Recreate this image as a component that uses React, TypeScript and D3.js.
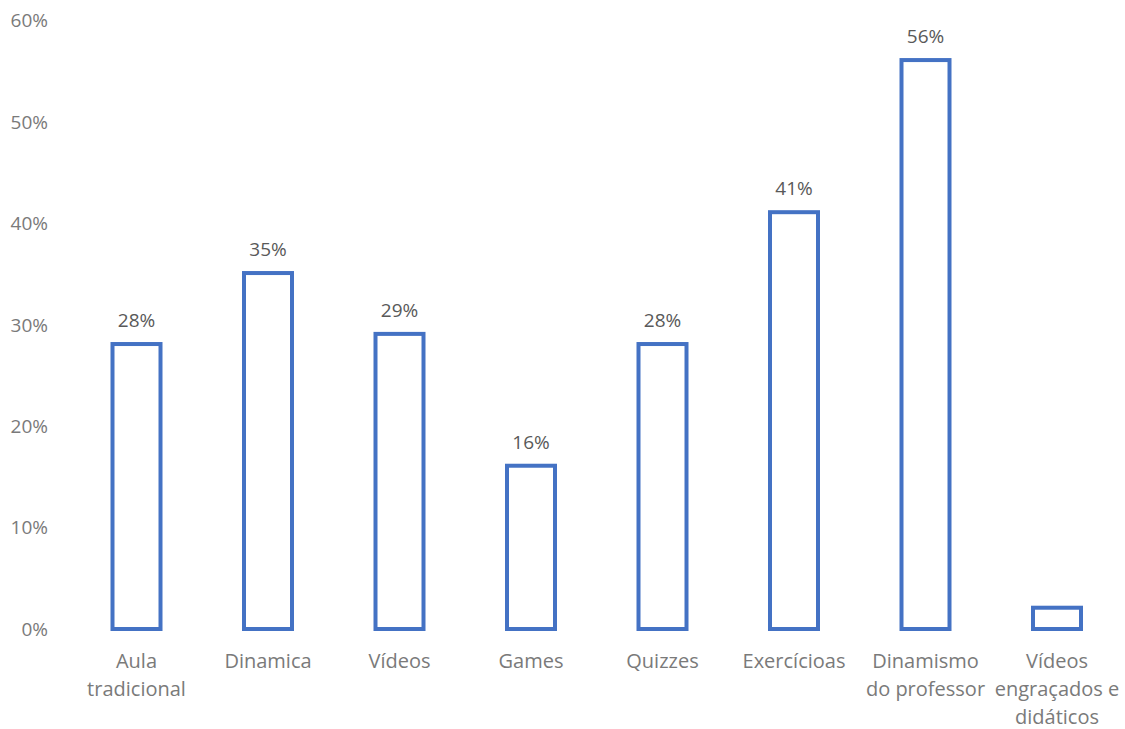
import React from "react";
import * as d3 from "d3";

const categories: string[][] = [
  ["Aula", "tradicional"],
  ["Dinamica"],
  ["Vídeos"],
  ["Games"],
  ["Quizzes"],
  ["Exercícioas"],
  ["Dinamismo", "do professor"],
  ["Vídeos", "engraçados e", "didáticos"],
];
const values: number[] = [0.28, 0.35, 0.29, 0.16, 0.28, 0.41, 0.56, 0.02];
const showLabel: boolean[] = [true, true, true, true, true, true, true, false];
const yTicks: number[] = [0, 0.1, 0.2, 0.3, 0.4, 0.5, 0.6];

const W = 1125;
const H = 729;

export default function App() {
  const x = d3
    .scaleBand<number>()
    .domain(values.map((_, i) => i))
    .range([70.75, 1122.75])
    .paddingInner(0.64)
    .paddingOuter(0.32);
  const y = d3.scaleLinear().domain([0, 0.6]).range([629, 20.5]);
  const fmt = d3.format(".0%");
  const font = "'Open Sans', 'Liberation Sans', sans-serif";
  const bw = 48;

  return (
    <svg
      width={W}
      height={H}
      style={{ position: "absolute", left: 0, top: 0, background: "#fff" }}
      fontFamily={font}
    >
      {yTicks.map((t) => (
        <text
          key={t}
          x={48}
          y={y(t)}
          dy="0.36em"
          textAnchor="end"
          fontSize={19}
          fill="#7a7a7a"
        >
          {fmt(t)}
        </text>
      ))}
      {values.map((v, i) => {
        const cx = (x(i) as number) + x.bandwidth() / 2;
        return (
          <g key={i}>
            <rect
              x={cx - bw / 2}
              y={y(v) - 1}
              width={bw}
              height={y(0) - y(v) + 1}
              fill="#fff"
              stroke="#4472C4"
              strokeWidth={4}
            />
            {showLabel[i] && (
              <text
                x={cx}
                y={y(v) - 25}
                dy="0.36em"
                textAnchor="middle"
                fontSize={19}
                fill="#595959"
              >
                {fmt(v)}
              </text>
            )}
            {categories[i].map((line, j) => (
              <text
                key={j}
                x={cx}
                y={661 + j * 28}
                dy="0.36em"
                textAnchor="middle"
                fontSize={20}
                fill="#7a7a7a"
              >
                {line}
              </text>
            ))}
          </g>
        );
      })}
    </svg>
  );
}
